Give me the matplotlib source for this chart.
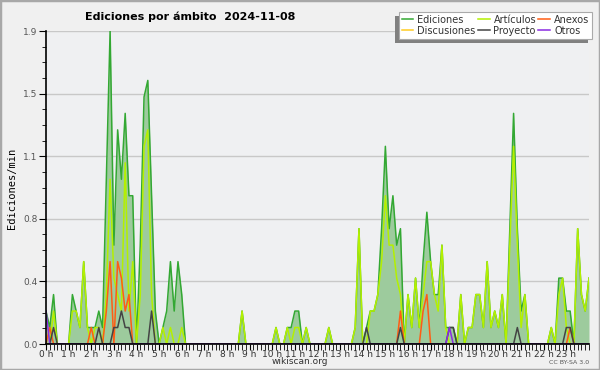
# -*- coding: utf-8 -*-
import matplotlib
matplotlib.use('agg')
import matplotlib.pyplot as plt
from matplotlib.ticker import AutoMinorLocator, MultipleLocator
from matplotlib.patches import Rectangle
import numpy as np

# edits per minute, one value every 10 minutes (0:00 .. 24:00)
ediciones = [
    0.2, 0.1, 0.3, 0, 0, 0, 0, 0.3, 0.2, 0.1, 0.5, 0.1,
    0.1, 0.1, 0.2, 0.1, 1.0, 1.9, 0.6, 1.3, 1.0, 1.4, 0.9, 0.9,
    0, 0.6, 1.5, 1.6, 0.9, 0.2, 0, 0.1, 0.2, 0.5, 0.2, 0.5,
    0.3, 0, 0, 0, 0, 0, 0, 0, 0, 0, 0, 0,
    0, 0, 0, 0, 0.2, 0, 0, 0, 0, 0, 0, 0,
    0, 0.1, 0, 0, 0.1, 0.1, 0.2, 0.2, 0, 0.1, 0, 0,
    0, 0, 0, 0.1, 0, 0, 0, 0, 0, 0, 0.1, 0.7,
    0, 0.1, 0.2, 0.2, 0.3, 0.7, 1.2, 0.7, 0.9, 0.6, 0.7, 0,
    0.3, 0.1, 0.4, 0.1, 0.5, 0.8, 0.5, 0.3, 0.3, 0.6, 0.1, 0.1,
    0.1, 0, 0.3, 0, 0.1, 0.1, 0.3, 0.3, 0.1, 0.5, 0.1, 0.2,
    0.1, 0.3, 0, 0.7, 1.4, 0.7, 0.2, 0.3, 0, 0, 0, 0,
    0, 0, 0.1, 0, 0.4, 0.4, 0.2, 0.2, 0, 0.7, 0.3, 0.2,
    0.4,
]
articulos = [
    0, 0, 0.2, 0, 0, 0, 0, 0.2, 0.2, 0.1, 0.5, 0.1,
    0, 0.1, 0.1, 0, 0.3, 1.0, 0.4, 0.3, 0.2, 1.1, 0.2, 0.5,
    0, 0.3, 1.2, 1.3, 0.3, 0, 0, 0.1, 0, 0.1, 0, 0,
    0.1, 0, 0, 0, 0, 0, 0, 0, 0, 0, 0, 0,
    0, 0, 0, 0, 0.2, 0, 0, 0, 0, 0, 0, 0,
    0, 0.1, 0, 0, 0.1, 0, 0.1, 0.1, 0, 0.1, 0, 0,
    0, 0, 0, 0.1, 0, 0, 0, 0, 0, 0, 0.1, 0.7,
    0, 0, 0.2, 0.2, 0.3, 0.5, 0.9, 0.6, 0.6, 0.4, 0.3, 0,
    0.3, 0.1, 0.4, 0.1, 0.3, 0.5, 0.5, 0.3, 0.2, 0.6, 0.1, 0,
    0, 0, 0.3, 0, 0.1, 0.1, 0.3, 0.3, 0.1, 0.5, 0.1, 0.2,
    0.1, 0.3, 0, 0.6, 1.2, 0.6, 0.1, 0.3, 0, 0, 0, 0,
    0, 0, 0.1, 0, 0.3, 0.4, 0.1, 0, 0, 0.7, 0.3, 0.2,
    0.4,
]
n = len(ediciones)
# sparse series: {10-min slot: value}
anexos_pts = {1: 0.1, 12: 0.1, 16: 0.2, 17: 0.5, 19: 0.5, 20: 0.4, 21: 0.2,
              22: 0.3, 94: 0.2, 100: 0.2, 101: 0.3, 139: 0.1}
proyecto_pts = {2: 0.1, 14: 0.1, 18: 0.1, 19: 0.1, 20: 0.2, 21: 0.1, 22: 0.1,
                28: 0.2, 85: 0.1, 94: 0.1, 107: 0.1, 108: 0.1, 125: 0.1,
                138: 0.1, 139: 0.1}
otros_pts = {0: 0.2, 107: 0.1}
discusiones_pts = {}


def expand(pts):
    vals = [0.0] * n
    for k, v in pts.items():
        vals[k] = v
    return vals


hours = np.arange(n) / 6.0
anexos = expand(anexos_pts)
proyecto = expand(proyecto_pts)
otros = expand(otros_pts)
discusiones = expand(discusiones_pts)

c_edi = '#33a833'
c_fill = '#9dcb9d'
c_art = '#b4f000'
c_anx = '#ff5c14'
c_dis = '#ffcc22'
c_pro = '#444444'
c_otr = '#8a2be2'

fig = plt.figure(figsize=(6, 3.7), dpi=100, facecolor='#f0f0f0')
ax = fig.add_axes([46/600, 1-344/370, 543/600, 313/370])
ax.set_facecolor('#eff0f2')

ax.fill_between(hours, ediciones, color=c_fill, lw=0)
l_edi, = ax.plot(hours, ediciones, c=c_edi, lw=1.1, label='Ediciones')
l_dis, = ax.plot(hours, discusiones, c=c_dis, lw=1.1, label='Discusiones')
l_art, = ax.plot(hours, articulos, c=c_art, lw=1.1, label='Artículos')
l_anx, = ax.plot(hours, anexos, c=c_anx, lw=1.1, label='Anexos')
l_pro, = ax.plot(hours, proyecto, c=c_pro, lw=1.1, label='Proyecto')
l_otr, = ax.plot(hours, otros, c=c_otr, lw=1.1, label='Otros')

ax.set_xlim(0, 24)
ax.set_ylim(0, 1.9)
yt = np.linspace(0, 1.9, 6)
ax.set_yticks(yt)
ax.set_yticklabels([f'{v:.1f}' for v in yt])
ax.yaxis.set_minor_locator(AutoMinorLocator(4))
ax.set_xticks(range(24))
ax.set_xticklabels([f'{h} h' for h in range(24)])
ax.xaxis.set_minor_locator(MultipleLocator(1/6))
ax.tick_params(axis='both', which='both', color='black', direction='out')
ax.tick_params(axis='y', which='major', length=5, labelsize=6.5, labelcolor='#555555', pad=1)
ax.tick_params(axis='y', which='minor', length=3)
ax.tick_params(axis='x', which='major', length=4, labelsize=6.5, labelcolor='#333333', pad=0)
ax.tick_params(axis='x', which='minor', length=4)
ax.grid(axis='y', color='#c8c8c8', lw=1)
ax.set_axisbelow(True)
for s in ['top', 'right']:
    ax.spines[s].set_visible(False)
ax.spines['left'].set_linewidth(1.2)
ax.spines['bottom'].set_linewidth(1.2)

fig.text(12/600, 1-188/370, 'Ediciones/min', family='DejaVu Sans Mono',
         fontsize=7.5, rotation=90, ha='center', va='center')
fig.text(85/600, 1-17/370, 'Ediciones por ámbito  2024-11-08', fontsize=8,
         fontweight='bold', va='center', ha='left')

leg = fig.legend(handles=[l_edi, l_dis, l_art, l_pro, l_anx, l_otr],
                 loc='upper right', bbox_to_anchor=(0.987, 0.968), ncol=3,
                 fontsize=7, handlelength=1.2, handletextpad=0.4,
                 columnspacing=0.25, labelspacing=0.1, borderpad=0.3,
                 borderaxespad=0, fancybox=False, shadow=False, frameon=True)
leg.get_frame().set_edgecolor('#aaaaaa')
leg.get_frame().set_linewidth(0.8)
leg.get_frame().set_facecolor('white')
leg.get_frame().set_alpha(1)
for t in leg.get_texts():
    t.set_color('#333333')

# legend shadow, offset down-left
fig.canvas.draw()
bb = leg.get_window_extent()
fig.patches.append(Rectangle((bb.x0 - 4, bb.y0 - 4), bb.width, bb.height,
                             transform=None, facecolor='#808080',
                             edgecolor='none', zorder=4))

fig.text(0.5, 1-362/370, 'wikiscan.org', fontsize=6.5, color='#333333',
         ha='center', va='center')
fig.text(589/600, 1-362/370, 'CC BY-SA 3.0', fontsize=4.5, color='#555555',
         ha='right', va='center')
fig.patches.append(Rectangle((0, 0), 1, 1, transform=fig.transFigure,
                             fill=False, edgecolor='#a8a8a8', lw=2.5))

fig.savefig('out.png', dpi=100, facecolor=fig.get_facecolor())
